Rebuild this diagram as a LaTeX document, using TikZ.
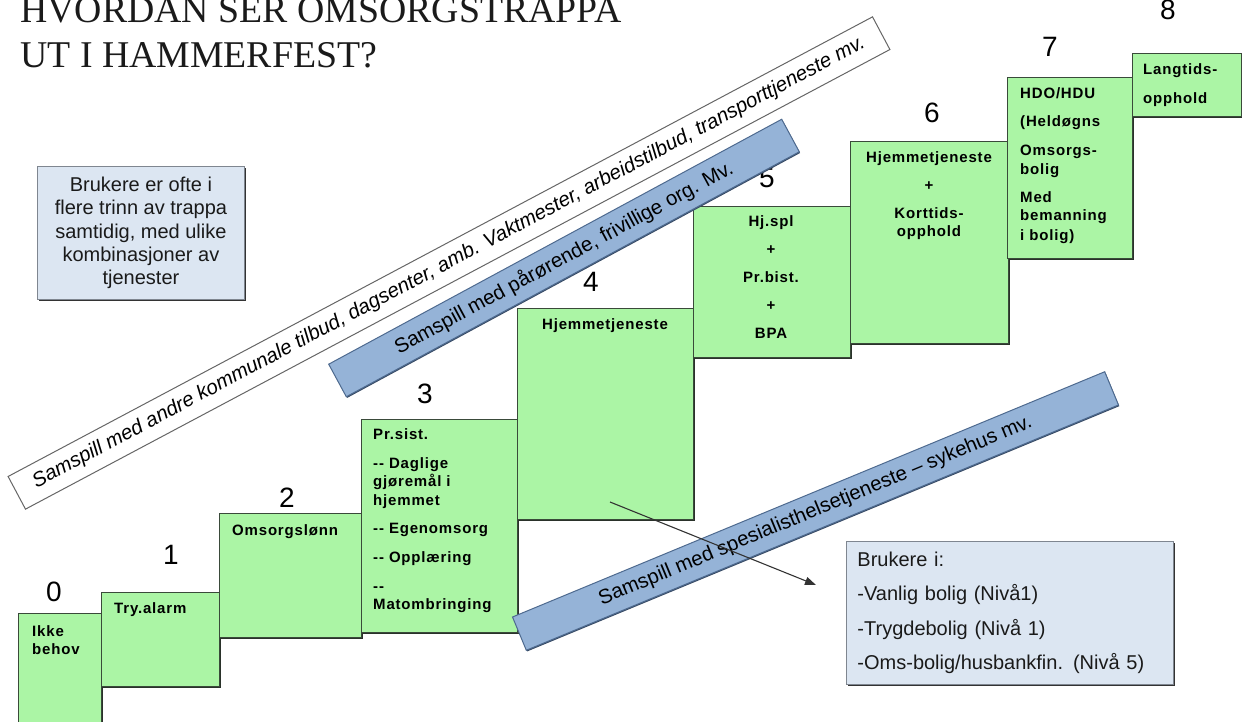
\documentclass[tikz,border=0pt]{standalone}
\usepackage{fontspec}
\setmainfont{Liberation Sans}
\newfontfamily\titlefont{Liberation Serif}
\newfontfamily\boxfont[LetterSpace=5.5]{Liberation Sans}
\usetikzlibrary{arrows.meta,shadows}
\definecolor{stepgreen}{HTML}{ABF5A5}
\definecolor{stepline}{HTML}{3A4A3A}
\definecolor{stepshadow}{HTML}{2A322A}
\definecolor{bannerblue}{HTML}{95B3D7}
\definecolor{bannerline}{HTML}{4E6A8F}
\definecolor{notefill}{HTML}{DCE6F2}
\definecolor{noteline}{HTML}{7F8690}
\definecolor{darktext}{HTML}{1A1A1A}
\begin{document}
\begin{tikzpicture}[x=1pt,y=-1pt,
  stepbox/.style={draw=stepline, fill=stepgreen, line width=0.9pt, inner sep=0pt,
    anchor=north west,
    drop shadow={shadow xshift=1.4pt, shadow yshift=-1.8pt, fill=stepshadow, opacity=1}},
  steptext/.style={inner sep=0pt, font=\boxfont\bfseries\fontsize{15}{18.5}\selectfont, text=black},
  stepnum/.style={inner sep=0pt, font=\fontsize{28}{28}\selectfont, text=black},
  notebox/.style={draw=noteline, fill=notefill, line width=0.9pt, inner sep=0pt,
    anchor=north west, text=darktext,
    drop shadow={shadow xshift=1.5pt, shadow yshift=-2pt, fill=black!80, opacity=1}},
  banner/.style={inner sep=0pt, line width=1pt,
    font=\fontsize{20.4}{22}\selectfont, text=black},
  whitebanner/.style={banner, draw=black!60, fill=white},
  bluebanner/.style={banner, draw=bannerline, fill=bannerblue,
    drop shadow={shadow xshift=0.8pt, shadow yshift=-1.2pt, fill=bannerline!70!black, opacity=1}},
  arrowline/.style={draw=black!80, line width=1.1pt, -{Triangle[length=11pt,width=8pt]}},
  titletext/.style={inner sep=0pt, anchor=base west, text=darktext,
    font=\titlefont\fontsize{37.8}{40}\selectfont}
]
\useasboundingbox (0,0) rectangle (1242,722);

% title
\node[titletext] (title1) at (20,23) {HVORDAN SER OMSORGSTRAPPA};
\node[titletext] (title2) at (20,68) {UT I HAMMERFEST?};

% note box left
\node[notebox, minimum width=207pt, minimum height=133pt, align=center,
  font=\fontsize{20}{23.3}\selectfont] (note1) at (37,166)
  {Brukere er ofte i\\flere trinn av trappa\\samtidig, med ulike\\kombinasjoner av\\tjenester};

% steps
\node[stepbox, minimum width=83pt,  minimum height=120pt] (b0) at (18,613) {};
\node[stepbox, minimum width=118pt, minimum height=94pt]  (b1) at (101,592) {};
\node[stepbox, minimum width=142pt, minimum height=124pt] (b2) at (219,513) {};
\node[stepbox, minimum width=156pt, minimum height=213pt] (b3) at (361,419) {};
\node[stepbox, minimum width=176pt, minimum height=211pt] (b4) at (517,308) {};
\node[stepbox, minimum width=157pt, minimum height=151pt] (b5) at (693,206) {};
\node[stepbox, minimum width=158pt, minimum height=202pt] (b6) at (850,141) {};
\node[stepbox, minimum width=125pt, minimum height=181pt] (b7) at (1007,77) {};
\node[stepbox, minimum width=109pt, minimum height=63pt]  (b8) at (1132,53) {};

% step texts
\node[steptext, anchor=north west, align=left] (t0) at (32,625.4) {Ikke\\behov};
\node[steptext, anchor=north west, align=left] (t1) at (114,602.4) {Try.alarm};
\node[steptext, anchor=north west, align=left] (t2) at (232,524.4) {Omsorgslønn};
\node[steptext, anchor=north west, align=left] (t3) at (373,428.4)
  {Pr.sist.\\[10.5pt]-{}- Daglige\\gjøremål i\\hjemmet\\[9.5pt]-{}- Egenomsorg\\[10.5pt]-{}- Opplæring\\[10.5pt]-{}-\\Matombringing};
\node[steptext, anchor=north, align=center] (t4) at (605,318.4) {Hjemmetjeneste};
\node[steptext, anchor=north, align=center] (t5) at (771,215.4)
  {Hj.spl\\[9.5pt]+\\[9.5pt]Pr.bist.\\[9.5pt]+\\[9.5pt]BPA};
\node[steptext, anchor=north, align=center] (t6) at (929,151.4)
  {Hjemmetjeneste\\[9.5pt]+\\[9.5pt]Korttids-\\opphold};
\node[steptext, anchor=north west, align=left] (t7) at (1020,87.4)
  {HDO/HDU\\[9.5pt](Heldøgns\\[11pt]Omsorgs-\\bolig\\[9.5pt]Med\\bemanning\\[1pt]i bolig)};
\node[steptext, anchor=north west, align=left] (t8) at (1143,63.4) {Langtids-\\[10.5pt]opphold};

% step numbers
\node[stepnum] (n0) at (54,592) {0};
\node[stepnum] (n1) at (171,555) {1};
\node[stepnum] (n2) at (287,498) {2};
\node[stepnum] (n3) at (425,394) {3};
\node[stepnum] (n4) at (591,282) {4};
\node[stepnum] (n5) at (767,178) {5};
\node[stepnum] (n6) at (932,113) {6};
\node[stepnum] (n7) at (1050,47) {7};
\node[stepnum] (n8) at (1168,10) {8};

% banners
\node[whitebanner, rotate=28, minimum width=979pt, minimum height=37pt] (ban0) at (449,263)
  {\itshape Samspill med andre kommunale tilbud, dagsenter, amb. Vaktmester, arbeidstilbud, transporttjeneste mv.};
\node[bluebanner, rotate=28.4, minimum width=515pt, minimum height=37pt] (ban1) at (564,258)
  {Samspill med pårørende, frivillige org. Mv.};
\node[bluebanner, rotate=22.5, minimum width=641pt, minimum height=36pt] (ban2) at (815.5,511)
  {Samspill med spesialisthelsetjeneste – sykehus mv.};

% note box right
\node[notebox, minimum width=327pt, minimum height=143pt, align=left, text width=305pt,
  inner xsep=11pt, font=\fontsize{20}{34.3}\selectfont] (note2) at (846,541)
  {Brukere i:\\-Vanlig bolig (Nivå1)\\-Trygdebolig (Nivå 1)\\-Oms-bolig/husbankfin. (Nivå 5)};

% arrow
\coordinate (arrS) at (610,502);
\coordinate (arrE) at (816,585);
\draw[arrowline] (arrS) -- (arrE);
\end{tikzpicture}
\end{document}
